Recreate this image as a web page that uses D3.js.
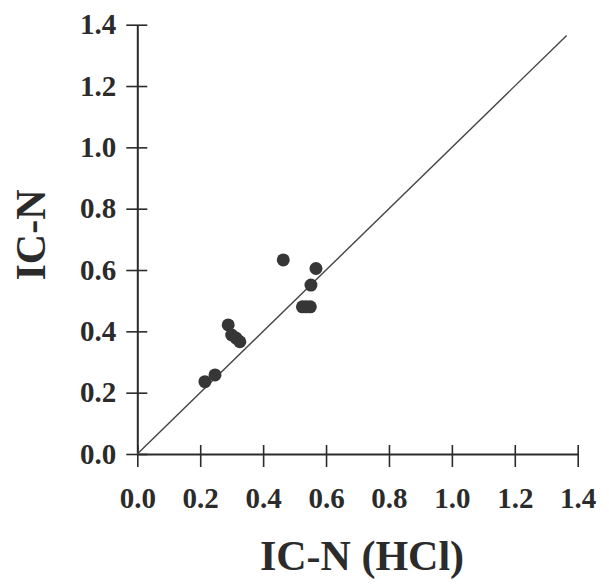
<!DOCTYPE html>
<html>
<head>
<meta charset="utf-8">
<script src="https://cdn.jsdelivr.net/npm/d3@7"></script>
<style>
  body { margin: 0; background: #fff; }
  text { font-family: "Liberation Serif", "Times New Roman", serif; font-weight: bold; fill: #2b2b2b; }
</style>
</head>
<body>
<script>
// data
const icnHcl = [0.215, 0.247, 0.289, 0.300, 0.314, 0.326, 0.464, 0.525, 0.537, 0.550, 0.552, 0.568];
const icn    = [0.236, 0.258, 0.421, 0.388, 0.378, 0.366, 0.633, 0.480, 0.480, 0.480, 0.551, 0.605];
const tickValues = [0.0, 0.2, 0.4, 0.6, 0.8, 1.0, 1.2, 1.4];
const oneToOne = [[0, 0], [1.365, 1.365]];

const points = icnHcl.map((v, i) => ({ x: v, y: icn[i] }));

const width = 609;
const height = 588;

const x = d3.scaleLinear().domain([0, 1.4]).range([137.3, 577.7]);
const y = d3.scaleLinear().domain([0, 1.4]).range([454, 24.7]);

const svg = d3.select("body").append("svg")
    .attr("width", width)
    .attr("height", height)
    .style("background", "#fff");

const ink = "#2b2b2b";

// x axis - ticks cross the line
const xAxis = svg.append("g")
    .attr("transform", `translate(0,${y(0)})`)
    .call(d3.axisBottom(x).tickValues(tickValues).tickFormat(d3.format(".1f"))
        .tickSizeInner(13).tickSizeOuter(0).tickPadding(20));
xAxis.select(".domain").attr("stroke", ink).attr("stroke-width", 2);
xAxis.selectAll(".tick line").attr("stroke", ink).attr("stroke-width", 1.6).attr("y1", -9);
xAxis.selectAll(".tick text").attr("font-size", 29).attr("fill", ink)
    .attr("font-family", "Liberation Serif, serif").attr("font-weight", "bold");

// y axis - ticks cross the line too
const yAxis = svg.append("g")
    .attr("transform", `translate(${x(0)},0)`)
    .call(d3.axisLeft(y).tickValues(tickValues).tickFormat(d3.format(".1f"))
        .tickSizeInner(11).tickSizeOuter(0).tickPadding(10));
yAxis.select(".domain").attr("stroke", ink).attr("stroke-width", 2);
yAxis.selectAll(".tick line").attr("stroke", ink).attr("stroke-width", 1.6).attr("x1", 10);
yAxis.selectAll(".tick text").attr("font-size", 29).attr("fill", ink)
    .attr("font-family", "Liberation Serif, serif").attr("font-weight", "bold");

// 1:1 line
svg.append("path")
    .datum(oneToOne)
    .attr("fill", "none")
    .attr("stroke", "#444")
    .attr("stroke-width", 1.4)
    .attr("d", d3.line().x(d => x(d[0])).y(d => y(d[1])));

// points
svg.append("g").selectAll("circle")
    .data(points)
    .join("circle")
    .attr("cx", d => x(d.x))
    .attr("cy", d => y(d.y))
    .attr("r", 6.5)
    .attr("fill", "#363636");

// axis titles
svg.append("text")
    .attr("x", 362)
    .attr("y", 570)
    .attr("text-anchor", "middle")
    .attr("font-size", 42)
    .text("IC-N (HCl)");

svg.append("text")
    .attr("transform", "translate(45,235) rotate(-90)")
    .attr("text-anchor", "middle")
    .attr("font-size", 42)
    .text("IC-N");
</script>
</body>
</html>
